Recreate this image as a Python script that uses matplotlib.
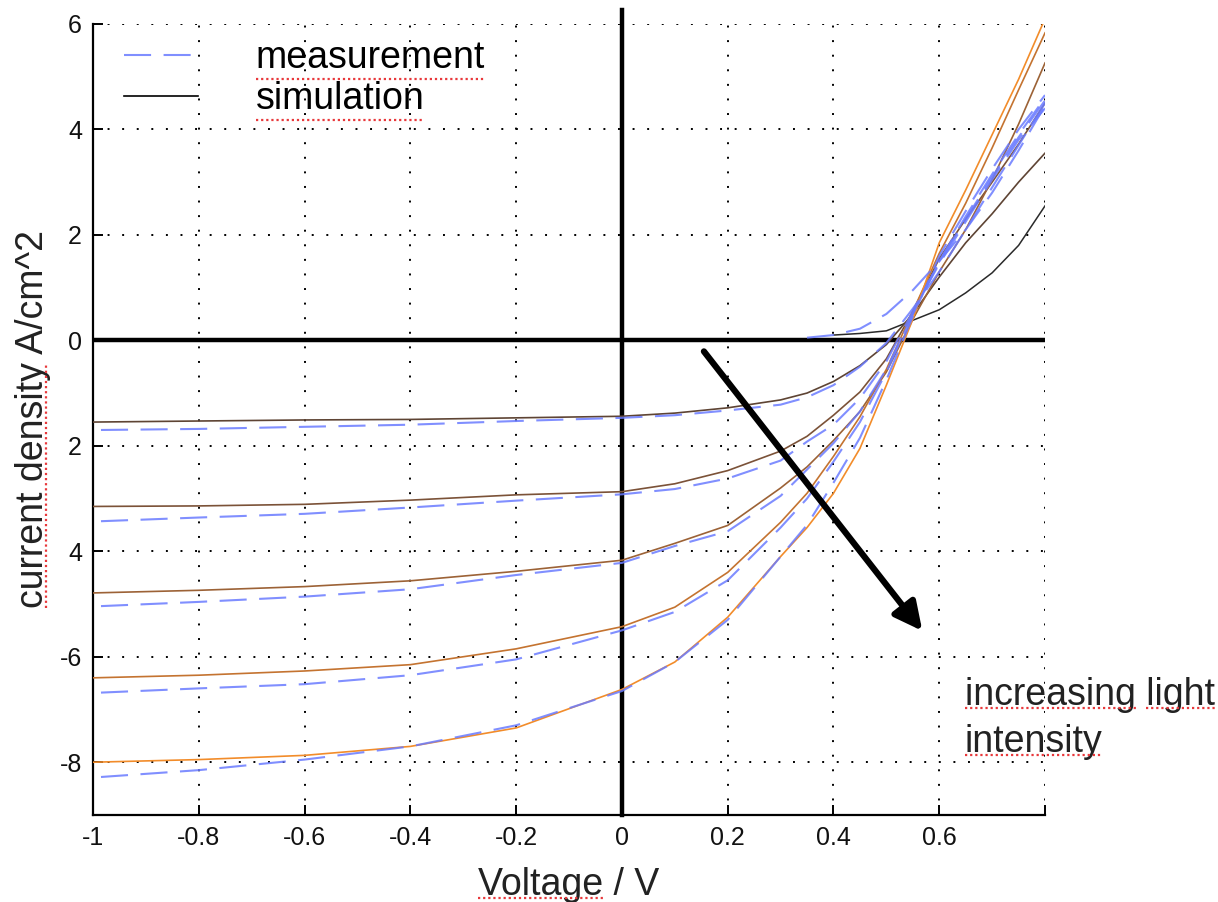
import numpy as np
import matplotlib
matplotlib.use("Agg")
import matplotlib.pyplot as plt
from matplotlib.lines import Line2D

plt.rcParams['font.family'] = ['Liberation Sans', 'DejaVu Sans']

# voltage samples (V) and current density (A/cm^2) for five light levels
volt = [-1, -0.8, -0.6, -0.4, -0.2, 0, 0.1, 0.2, 0.3, 0.35, 0.4, 0.45, 0.5, 0.55, 0.6, 0.65, 0.7, 0.75, 0.8]
volt_meas = [-0.985, -0.8, -0.6, -0.4, -0.2, 0, 0.1, 0.2, 0.3, 0.35, 0.4, 0.45, 0.5, 0.55, 0.6, 0.65, 0.7, 0.75, 0.8]

sim_1 = [-1.55, -1.53, -1.51, -1.50, -1.47, -1.44, -1.38, -1.28, -1.13, -1.0, -0.78, -0.48, -0.08, 0.5, 1.2, 1.85, 2.4, 3.0, 3.55]
sim_2 = [-3.15, -3.14, -3.11, -3.03, -2.93, -2.87, -2.72, -2.47, -2.1, -1.82, -1.42, -0.98, -0.35, 0.55, 1.55, 2.3, 3.0, 3.72, 4.5]
sim_3 = [-4.79, -4.74, -4.67, -4.56, -4.38, -4.17, -3.85, -3.51, -2.8, -2.4, -1.9, -1.35, -0.6, 0.4, 1.3, 2.1, 3.05, 4.1, 5.26]
sim_4 = [-6.40, -6.35, -6.27, -6.15, -5.85, -5.43, -5.06, -4.4, -3.45, -2.9, -2.2, -1.45, -0.55, 0.55, 1.65, 2.6, 3.65, 4.75, 5.83]
sim_5 = [-8.0, -7.95, -7.87, -7.7, -7.35, -6.62, -6.1, -5.25, -4.1, -3.55, -2.9, -2.05, -0.85, 0.4, 1.85, 2.85, 3.9, 4.95, 6.1]

meas_1 = [-1.70, -1.68, -1.64, -1.60, -1.53, -1.47, -1.42, -1.33, -1.22, -1.08, -0.85, -0.5, -0.05, 0.6, 1.3, 2.1, 2.9, 3.7, 4.5]
meas_2 = [-3.43, -3.36, -3.29, -3.17, -3.04, -2.92, -2.82, -2.62, -2.28, -1.92, -1.6, -1.1, -0.4, 0.55, 1.45, 2.25, 3.05, 3.8, 4.4]
meas_3 = [-5.04, -4.96, -4.86, -4.72, -4.45, -4.22, -3.9, -3.62, -2.95, -2.45, -1.95, -1.35, -0.55, 0.5, 1.5, 2.3, 3.1, 3.85, 4.55]
meas_4 = [-6.68, -6.6, -6.52, -6.35, -6.05, -5.5, -5.15, -4.55, -3.55, -3.0, -2.3, -1.55, -0.6, 0.5, 1.5, 2.35, 3.15, 3.9, 4.6]
meas_5 = [-8.28, -8.15, -7.95, -7.7, -7.3, -6.65, -6.1, -5.3, -4.1, -3.5, -2.7, -1.85, -0.75, 0.45, 1.6, 2.45, 3.25, 4.0, 4.65]

# dark curves (no illumination)
volt_dark_sim = [0.4, 0.45, 0.5, 0.55, 0.6, 0.65, 0.7, 0.75, 0.8]
sim_dark = [0.1, 0.13, 0.18, 0.38, 0.58, 0.9, 1.28, 1.8, 2.55]
volt_dark_meas = [0.35, 0.4, 0.45, 0.5, 0.55, 0.6, 0.65, 0.7, 0.75, 0.8]
meas_dark = [0.05, 0.1, 0.22, 0.5, 0.95, 1.5, 2.1, 2.8, 3.6, 4.45]

sims = [sim_1, sim_2, sim_3, sim_4, sim_5]
meass = [meas_1, meas_2, meas_3, meas_4, meas_5]
sim_colors = ['#5e4434', '#7b5238', '#9c6236', '#c47330', '#f28c2a']

x_ticks = [-1, -0.8, -0.6, -0.4, -0.2, 0, 0.2, 0.4, 0.6, 0.8]
x_labels = ['-1', '-0.8', '-0.6', '-0.4', '-0.2', '0', '0.2', '0.4', '0.6', '']
y_ticks = [-8, -6, -4, -2, 0, 2, 4, 6]
y_labels = ['-8', '-6', '4', '2', '0', '2', '4', '6']

meas_color = '#6a7bff'
dash = (0, (13, 6))

fig = plt.figure(figsize=(12.18, 9.02), dpi=100)
ax = fig.add_axes([0.0764, 0.0965, 0.7816, 0.877])

ax.set_xlim(-1, 0.8)
ax.set_ylim(-9, 6)

# dotted grid
ax.set_xticks(x_ticks)
ax.set_xticklabels(x_labels)
ax.set_yticks(y_ticks)
ax.set_yticklabels(y_labels)
ax.grid(True, color='black', linestyle=(0, (1, 6.5)), linewidth=1.4)

for s in ['top', 'right']:
    ax.spines[s].set_visible(False)
for s in ['left', 'bottom']:
    ax.spines[s].set_linewidth(1.6)
ax.tick_params(direction='in', length=7, width=1.4, labelsize=18, pad=8,
               top=False, right=False, colors='black', labelcolor='#111111')

# thick zero lines
ax.axhline(0, color='black', lw=3.2, zorder=3)
ax.axvline(0, ymin=0, ymax=1.018, color='black', lw=3.2, zorder=3, clip_on=False)

# simulated curves
ax.plot(volt_dark_sim, sim_dark, color='#2a2a2a', lw=1.1, zorder=4, label='simulation')
for j, c in zip(sims, sim_colors):
    ax.plot(volt, j, color=c, lw=1.2, zorder=4)

# measured curves
ax.plot(volt_dark_meas, meas_dark, color=meas_color, lw=1.5, ls=dash, alpha=0.85,
        zorder=5, label='measurement')
for j in meass:
    ax.plot(volt_meas, j, color=meas_color, lw=1.5, ls=dash, alpha=0.85, zorder=5)

# legend: measurement first
h, l = ax.get_legend_handles_labels()
leg = ax.legend([h[1], Line2D([], [], color='black', lw=1.2)], [l[1], l[0]],
                loc='upper left', bbox_to_anchor=(0.033, 0.98), frameon=False,
                fontsize=27, handlelength=1.95, handletextpad=1.55,
                labelspacing=0.15, borderpad=0, borderaxespad=0)

ax.annotate('', xy=(0.568, -5.51), xytext=(0.155, -0.21),
            arrowprops=dict(arrowstyle='-|>', lw=4.5, color='black',
                            mutation_scale=42, shrinkA=0, shrinkB=0), zorder=6)

t1 = ax.text(0.648, -6.72, 'increasing light', fontsize=27, va='center', ha='left',
             color='#222222', clip_on=False)
t2 = ax.text(0.648, -7.62, 'intensity', fontsize=27, va='center', ha='left',
             color='#222222', clip_on=False)

xl = ax.set_xlabel('Voltage / V', fontsize=27, color='#222222', labelpad=12)
yl = ax.set_ylabel('current density A/cm^2', fontsize=27, color='#222222', labelpad=6)

# red dotted spell-check underlines under some words
fig.canvas.draw()
r = fig.canvas.get_renderer()
inv = fig.transFigure.inverted()


def underline(t, word, vertical=False):
    s = t.get_text()
    stop = s.index(word) + len(word)
    prop = t.get_fontproperties()
    w_end, _, _ = r.get_text_width_height_descent(s[:stop], prop, ismath=False)
    w_word, _, _ = r.get_text_width_height_descent(word, prop, ismath=False)
    _, _, d = r.get_text_width_height_descent(s, prop, ismath=False)
    bb = t.get_window_extent(r)
    if vertical:
        x = bb.x1 - d + 3
        pts = [(x, bb.y0 + w_end - w_word), (x, bb.y0 + w_end)]
    else:
        y = bb.y0 + d - 3
        pts = [(bb.x0 + w_end - w_word, y), (bb.x0 + w_end, y)]
    p = inv.transform(pts)
    fig.add_artist(Line2D(p[:, 0], p[:, 1], color='#e8383b', lw=1.6,
                          ls=(0, (1, 1.3))))


for txt in leg.get_texts():
    underline(txt, txt.get_text())
underline(t1, 'increasing')
underline(t1, 'light')
underline(t2, 'intensity')
underline(xl, 'Voltage')
underline(yl, 'current density', vertical=True)

fig.savefig('out.png', dpi=100)
